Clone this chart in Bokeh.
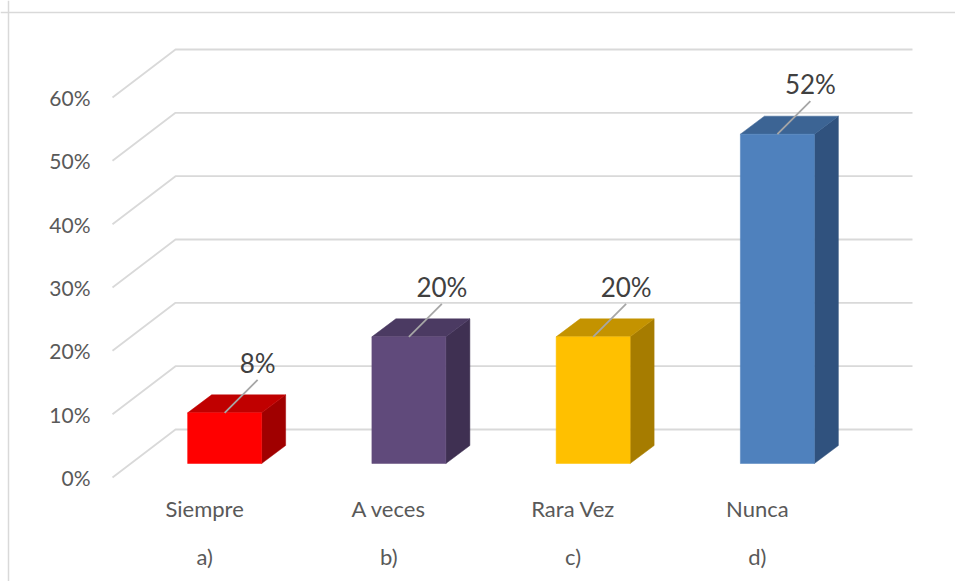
from bokeh.plotting import figure
from bokeh.models import Range1d, Span
from bokeh.core.properties import value
from bokeh.embed import file_html
from bokeh.resources import INLINE

# ---- data ----
categories = ["Siempre", "A veces", "Rara Vez", "Nunca"]
letters = ["a)", "b)", "c)", "d)"]
values = [8, 20, 20, 52]
value_labels = ["8%", "20%", "20%", "52%"]
y_ticks = [0, 10, 20, 30, 40, 50, 60]
y_tick_labels = ["0%", "10%", "20%", "30%", "40%", "50%", "60%"]
front_colors = ["#FF0000", "#604A7B", "#FFC000", "#4F81BD"]
top_colors = ["#C00000", "#4B3A62", "#C49300", "#3C6494"]
side_colors = ["#A00000", "#3F3052", "#A67C00", "#30527E"]

# ---- layout constants (pixel scale of the projection) ----
W, H = 955, 581
UX = 737 / 4.0          # px per category unit
UY = 380 / 60.0         # px per percent
X0_PX, Y0_PX = 112, 477  # canvas px of (x=0, y=0%)

WALL_DX, WALL_DY = 63 / UX, 48 / UY
BAR_OX, BAR_OY = 20 / UX, 14 / UY
BAR_DX, BAR_DY = 24 / UX, 18 / UY
BAR_HW = 37 / UX
LEAD_DX, LEAD_DY = 33 / UX, 33 / UY

x_start = -X0_PX / UX
x_end = (W - X0_PX) / UX
y_end = Y0_PX / UY
y_start = -(H - Y0_PX) / UY

p = figure(width=W, height=H, output_backend="svg", toolbar_location=None,
           x_axis_type=None, y_axis_type=None,
           x_range=Range1d(x_start, x_end), y_range=Range1d(y_start, y_end),
           min_border=0, min_border_left=0, min_border_right=0,
           min_border_top=0, min_border_bottom=0)
p.outline_line_color = None
p.background_fill_color = "white"
p.border_fill_color = "white"

grid_color = "#d9d9d9"
n = len(categories)

# chart border (left and top)
p.add_layout(Span(location=x_start + 8 / UX, dimension="height", line_color=grid_color, line_width=1.5))
p.add_layout(Span(location=y_end - 12 / UY, dimension="width", line_color=grid_color, line_width=1.5))

# side wall (diagonal) + back wall gridlines
for t in y_ticks:
    p.line([0, WALL_DX, WALL_DX + n], [t, t + WALL_DY, t + WALL_DY],
           line_color=grid_color, line_width=1.8)

# bars
fx, fy, tx, ty, sx, sy = [], [], [], [], [], []
for i, v in enumerate(values):
    c = i + 0.5 + BAR_OX
    x0, x1 = c - BAR_HW, c + BAR_HW
    y0, y1 = BAR_OY, BAR_OY + v
    fx.append([x0, x1, x1, x0]); fy.append([y0, y0, y1, y1])
    tx.append([x0, x1, x1 + BAR_DX, x0 + BAR_DX]); ty.append([y1, y1, y1 + BAR_DY, y1 + BAR_DY])
    sx.append([x1, x1 + BAR_DX, x1 + BAR_DX, x1]); sy.append([y0, y0 + BAR_DY, y1 + BAR_DY, y1])

p.patches(sx, sy, fill_color=side_colors, line_color=side_colors, line_width=0.5)
p.patches(tx, ty, fill_color=top_colors, line_color=top_colors, line_width=0.5)
p.patches(fx, fy, fill_color=front_colors, line_color=front_colors, line_width=0.5)

# leader lines and value labels
lx0 = [i + 0.5 + BAR_OX for i in range(n)]
ly0 = [BAR_OY + v for v in values]
lx1 = [x + LEAD_DX for x in lx0]
ly1 = [y + LEAD_DY for y in ly0]
p.segment(x0=lx0, y0=ly0, x1=lx1, y1=ly1, line_color="#a6a6a6", line_width=1.8)
p.text(x=lx1, y=ly1, text=value_labels, text_font=value("Lato"),
       text_font_size="26px", text_color="#404040",
       text_align="center", text_baseline="bottom", y_offset=-1)

# y tick labels
p.text(x=[-22 / UX] * len(y_ticks), y=y_ticks, text=y_tick_labels,
       text_font=value("Lato"), text_font_size="21px", text_color="#595959",
       text_align="right", text_baseline="middle")

# category labels
cx = [i + 0.5 for i in range(n)]
p.text(x=cx, y=[-31 / UY] * n, text=categories, text_font=value("Lato"),
       text_font_size="22px", text_color="#595959",
       text_align="center", text_baseline="middle")
p.text(x=cx, y=[-79 / UY] * n, text=letters, text_font=value("Lato"),
       text_font_size="22px", text_color="#595959",
       text_align="center", text_baseline="middle")

open("out.html", "w").write(file_html(p, INLINE))
